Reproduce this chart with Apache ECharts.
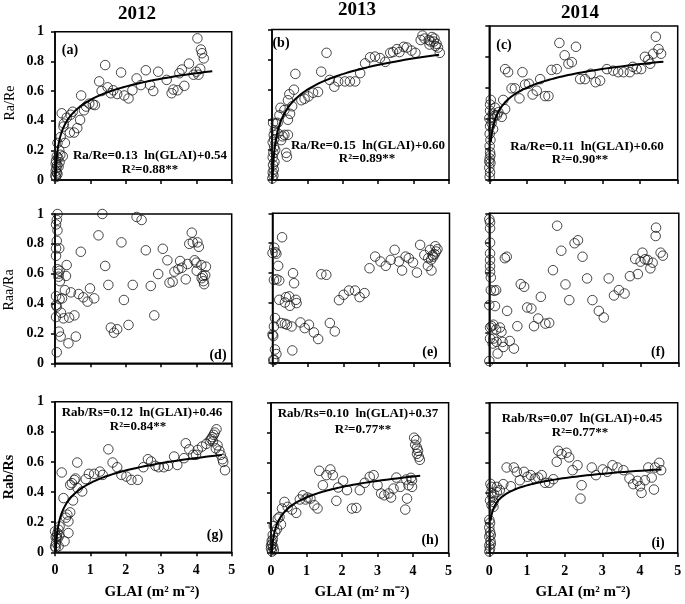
<!DOCTYPE html>
<html>
<head>
<meta charset="utf-8">
<script src="https://cdn.jsdelivr.net/npm/echarts@6/dist/echarts.min.js"></script>
<style>html,body{margin:0;padding:0;background:#fff}#c{width:685px;height:604px}</style>
</head>
<body>
<div id="c"></div>
<script>
// ---- Data ----
const years = ['2012', '2013', '2014'];
const rowNames = ['Ra/Re', 'Raa/Ra', 'Rab/Rs'];
const panelLabels = ['(a)', '(b)', '(c)', '(d)', '(e)', '(f)', '(g)', '(h)', '(i)'];
const xTicks = [0, 1, 2, 3, 4, 5];
const yTicks = [0, 0.2, 0.4, 0.6, 0.8, 1];

const ptsA = [[4.03,0.955],[4.13,0.88],[4.16,0.855],[4.21,0.82],[4.11,0.75],[4.06,0.71],[3.92,0.71],[4.0,0.73],[3.79,0.785],[3.59,0.745],[3.52,0.72],[3.66,0.635],[3.47,0.605],[3.35,0.61],[3.30,0.585],[3.16,0.675],[2.92,0.73],[2.78,0.60],[2.69,0.64],[2.57,0.74],[2.43,0.64],[2.31,0.685],[2.19,0.605],[2.08,0.55],[1.96,0.57],[1.87,0.725],[1.76,0.58],[1.65,0.605],[1.58,0.585],[1.49,0.625],[1.42,0.775],[1.32,0.60],[1.25,0.665],[1.13,0.505],[1.07,0.51],[0.97,0.515],[0.88,0.495],[0.82,0.47],[0.74,0.57],[0.71,0.405],[0.63,0.35],[0.54,0.32],[0.42,0.32],[0.50,0.46],[0.44,0.44],[0.33,0.42],[0.25,0.38],[0.19,0.45],[0.24,0.36],[0.28,0.25],[0.22,0.16],[0.16,0.29],[0.12,0.20],[0.07,0.25],[0.05,0.16],[0.03,0.13],[0.06,0.10],[0.04,0.08],[0.02,0.06],[0.07,0.04],[0.03,0.02],[0.10,0.09],[0.13,0.12],[0.15,0.17],[0.09,0.15],[0.02,0.11],[0.05,0.05],[0.01,0.03]];
const ptsB = [[4.2,0.93],[4.25,0.96],[4.31,0.94],[4.43,0.93],[4.48,0.92],[4.57,0.92],[4.65,0.905],[4.69,0.88],[4.74,0.845],[4.52,0.95],[4.59,0.94],[4.45,0.90],[4.62,0.89],[4.05,0.845],[3.94,0.86],[3.81,0.88],[3.72,0.885],[3.60,0.85],[3.53,0.87],[3.42,0.85],[3.34,0.845],[3.20,0.785],[3.05,0.81],[2.91,0.82],[2.77,0.815],[2.63,0.775],[2.49,0.71],[2.35,0.655],[2.20,0.655],[2.06,0.655],[1.87,0.655],[1.76,0.62],[1.63,0.665],[1.54,0.845],[1.39,0.72],[1.30,0.585],[1.16,0.58],[1.03,0.555],[0.92,0.54],[0.83,0.53],[0.66,0.705],[0.62,0.60],[0.49,0.57],[0.45,0.53],[0.57,0.49],[0.51,0.44],[0.45,0.40],[0.35,0.465],[0.24,0.48],[0.21,0.43],[0.16,0.38],[0.11,0.375],[0.35,0.30],[0.45,0.30],[0.30,0.29],[0.40,0.18],[0.42,0.155],[0.26,0.265],[0.16,0.31],[0.08,0.33],[0.03,0.38],[0.05,0.30],[0.02,0.25],[0.06,0.22],[0.04,0.18],[0.02,0.15],[0.07,0.12],[0.03,0.10],[0.05,0.07],[0.02,0.05],[0.04,0.03],[0.01,0.01],[0.06,0.27],[0.09,0.20]];
const ptsC = [[4.42,0.93],[4.49,0.85],[4.35,0.82],[4.56,0.82],[4.22,0.78],[4.13,0.80],[4.27,0.755],[4.03,0.72],[3.91,0.72],[3.81,0.735],[3.73,0.70],[3.56,0.70],[3.42,0.70],[3.29,0.71],[3.12,0.72],[2.94,0.645],[2.82,0.635],[2.69,0.69],[2.54,0.655],[2.41,0.655],[2.30,0.865],[2.19,0.765],[2.10,0.755],[2.00,0.81],[1.86,0.89],[1.79,0.72],[1.65,0.715],[1.57,0.545],[1.48,0.545],[1.35,0.655],[1.26,0.58],[1.15,0.555],[1.05,0.625],[0.95,0.62],[0.88,0.70],[0.80,0.53],[0.68,0.595],[0.59,0.595],[0.50,0.70],[0.42,0.72],[0.37,0.52],[0.42,0.46],[0.33,0.41],[0.24,0.44],[0.20,0.42],[0.15,0.42],[0.09,0.40],[0.06,0.37],[0.10,0.33],[0.04,0.52],[0.02,0.49],[0.15,0.47],[0.09,0.43],[0.02,0.45],[0.0,0.40],[0.02,0.35],[0.01,0.30],[0.03,0.26],[0.01,0.22],[0.02,0.18],[0.01,0.14],[0.03,0.11],[0.0,0.08],[0.02,0.05],[0.01,0.02],[0.03,0.16],[0.0,0.12]];
const ptsD = [[0.07,1.0],[0.05,0.96],[0.03,0.93],[0.07,0.89],[0.05,0.82],[0.03,0.77],[0.12,0.77],[0.03,0.72],[0.07,0.63],[0.10,0.60],[1.34,1.0],[2.31,0.98],[2.45,0.96],[1.23,0.857],[1.88,0.81],[3.87,0.875],[3.90,0.81],[3.80,0.80],[4.03,0.81],[4.07,0.78],[2.57,0.757],[3.05,0.767],[0.73,0.747],[3.18,0.69],[3.54,0.685],[3.95,0.69],[4.0,0.674],[4.14,0.658],[3.75,0.665],[3.59,0.64],[3.49,0.63],[3.38,0.614],[4.27,0.647],[4.01,0.62],[1.42,0.652],[0.33,0.658],[2.92,0.598],[3.24,0.54],[3.33,0.547],[3.70,0.5625],[4.15,0.57],[4.20,0.55],[4.22,0.53],[4.25,0.59],[4.18,0.585],[1.51,0.525],[2.20,0.525],[2.71,0.518],[0.10,0.58],[0.14,0.55],[0.13,0.62],[0.31,0.585],[0.28,0.49],[0.45,0.475],[0.20,0.435],[0.67,0.464],[0.80,0.442],[0.92,0.413],[0.99,0.502],[1.11,0.435],[1.95,0.424],[0.17,0.339],[0.24,0.301],[0.40,0.306],[0.55,0.321],[2.81,0.321],[1.58,0.239],[1.67,0.205],[1.76,0.228],[2.08,0.257],[0.11,0.212],[0.16,0.179],[0.38,0.134],[0.59,0.179],[0.05,0.074],[0.03,0.39],[0.03,0.31],[0.03,0.45],[0.05,0.38],[0.13,0.43]];
const ptsE = [[0.27,0.84],[0.05,0.77],[0.11,0.73],[0.08,0.74],[0.0,0.735],[0.16,0.649],[0.11,0.56],[0.19,0.551],[0.04,0.555],[0.58,0.60],[0.61,0.533],[0.38,0.44],[0.47,0.445],[0.19,0.422],[0.35,0.404],[0.49,0.382],[0.66,0.422],[0.68,0.40],[0.07,0.30],[0.04,0.244],[0.25,0.267],[0.35,0.262],[0.41,0.256],[0.54,0.244],[0.79,0.271],[0.91,0.233],[1.03,0.256],[1.17,0.204],[1.29,0.16],[1.38,0.593],[1.52,0.589],[1.62,0.267],[1.76,0.211],[1.88,0.42],[2.01,0.456],[2.16,0.484],[2.33,0.484],[2.46,0.44],[2.60,0.467],[2.74,0.633],[2.90,0.711],[3.05,0.678],[3.20,0.649],[3.34,0.689],[3.45,0.756],[3.57,0.678],[3.66,0.618],[3.76,0.711],[3.85,0.70],[3.97,0.671],[4.08,0.604],[4.17,0.789],[4.29,0.722],[4.39,0.649],[4.49,0.618],[4.40,0.70],[4.45,0.756],[4.48,0.69],[4.52,0.72],[4.58,0.727],[4.60,0.78],[4.66,0.76],[4.62,0.745],[4.54,0.71],[0.56,0.084],[0.02,0.18],[0.0,0.19],[0.07,0.09],[0.11,0.06],[0.05,0.02],[0.02,0.02]];
const ptsF = [[1.79,0.917],[4.40,0.904],[4.39,0.848],[2.25,0.80],[2.34,0.82],[1.90,0.75],[2.46,0.71],[0.41,0.70],[0.46,0.71],[4.04,0.737],[3.85,0.695],[3.99,0.677],[4.11,0.693],[4.18,0.688],[4.31,0.67],[4.25,0.632],[4.52,0.737],[4.58,0.717],[1.68,0.62],[2.58,0.565],[3.15,0.565],[3.71,0.58],[3.92,0.594],[0.83,0.527],[0.92,0.509],[2.01,0.525],[1.36,0.442],[2.11,0.42],[2.72,0.42],[3.29,0.451],[3.42,0.487],[3.57,0.464],[1.0,0.371],[1.11,0.364],[0.47,0.348],[2.89,0.348],[3.02,0.304],[1.29,0.297],[1.48,0.263],[1.58,0.268],[1.18,0.246],[0.74,0.246],[0.54,0.147],[0.65,0.096],[0.13,0.482],[0.18,0.487],[0.15,0.38],[0.11,0.256],[0.06,0.246],[0.18,0.224],[0.28,0.237],[0.32,0.208],[0.11,0.163],[0.19,0.141],[0.35,0.141],[0.37,0.107],[0.22,0.063],[0.09,0.13],[0.0,0.96],[0.02,0.94],[0.02,0.90],[0.02,0.804],[0.02,0.732],[0.02,0.688],[0.02,0.647],[0.02,0.609],[0.04,0.571],[0.04,0.487],[0.0,0.386],[0.02,0.237],[0.02,0.163],[0.0,0.013]];
const ptsG = [[4.57,0.817],[4.52,0.795],[4.49,0.78],[4.45,0.765],[4.42,0.752],[4.47,0.737],[4.38,0.742],[4.28,0.72],[4.16,0.702],[4.04,0.68],[3.91,0.647],[3.99,0.647],[3.70,0.724],[3.80,0.684],[4.60,0.71],[4.65,0.675],[4.69,0.647],[4.74,0.618],[4.76,0.60],[4.81,0.545],[4.55,0.69],[3.65,0.625],[3.46,0.58],[3.37,0.636],[3.20,0.574],[3.08,0.565],[2.93,0.565],[2.84,0.574],[2.72,0.603],[2.63,0.618],[2.50,0.565],[2.34,0.481],[2.16,0.481],[2.02,0.503],[1.88,0.514],[1.76,0.565],[1.63,0.596],[1.51,0.684],[1.35,0.514],[1.27,0.536],[1.11,0.521],[0.96,0.521],[0.87,0.486],[0.77,0.404],[0.63,0.596],[0.64,0.426],[0.55,0.48],[0.58,0.49],[0.48,0.459],[0.43,0.448],[0.51,0.344],[0.43,0.265],[0.38,0.205],[0.35,0.25],[0.31,0.23],[0.38,0.128],[0.24,0.36],[0.19,0.53],[0.27,0.073],[0.13,0.172],[0.10,0.15],[0.07,0.128],[0.05,0.106],[0.03,0.062],[0.10,0.04],[0.0,0.139],[0.02,0.10],[0.07,0.09],[0.0,0.04],[0.02,0.03],[0.12,0.11]];
const ptsH = [[4.03,0.767],[4.09,0.751],[4.06,0.72],[4.11,0.70],[4.14,0.68],[4.11,0.66],[4.16,0.64],[4.19,0.62],[3.94,0.50],[3.97,0.484],[3.97,0.44],[3.87,0.451],[3.81,0.489],[3.83,0.362],[3.78,0.289],[3.64,0.44],[3.53,0.502],[3.45,0.429],[3.38,0.369],[3.31,0.396],[3.19,0.384],[3.10,0.396],[3.0,0.451],[2.89,0.518],[2.78,0.507],[2.64,0.467],[2.50,0.418],[2.40,0.30],[2.28,0.296],[2.14,0.418],[2.03,0.48],[1.89,0.436],[1.84,0.347],[1.74,0.518],[1.67,0.556],[1.56,0.518],[1.46,0.451],[1.36,0.547],[1.31,0.296],[1.22,0.318],[1.11,0.362],[1.03,0.369],[0.97,0.356],[0.90,0.384],[0.81,0.356],[0.71,0.267],[0.59,0.289],[0.47,0.307],[0.38,0.34],[0.31,0.296],[0.24,0.24],[0.19,0.229],[0.08,0.18],[0.12,0.14],[0.17,0.16],[0.28,0.19],[0.05,0.12],[0.02,0.08],[0.03,0.06],[0.06,0.04],[0.0,0.03],[0.08,0.02],[0.03,0.01],[0.0,0.05],[0.05,0.09]];
const ptsI = [[1.83,0.68],[1.92,0.658],[2.05,0.667],[2.12,0.636],[1.79,0.607],[2.21,0.551],[2.34,0.584],[2.45,0.451],[2.42,0.362],[2.72,0.569],[2.83,0.518],[3.01,0.556],[3.13,0.54],[3.27,0.584],[3.40,0.569],[3.56,0.551],[3.72,0.496],[3.82,0.458],[3.93,0.48],[4.0,0.444],[4.04,0.40],[4.13,0.484],[4.22,0.569],[4.31,0.502],[4.37,0.422],[4.40,0.569],[4.51,0.60],[4.56,0.551],[0.46,0.569],[0.65,0.569],[0.73,0.54],[0.81,0.484],[0.92,0.54],[1.01,0.507],[1.10,0.518],[1.21,0.496],[1.30,0.502],[1.39,0.518],[1.48,0.467],[1.59,0.467],[1.70,0.491],[0.57,0.444],[0.37,0.458],[0.28,0.418],[0.20,0.405],[0.13,0.39],[0.09,0.373],[0.11,0.34],[0.06,0.318],[0.11,0.307],[0.06,0.44],[0.20,0.44],[0.03,0.46],[0.05,0.40],[0.02,0.35],[0.0,0.22],[0.02,0.20],[0.0,0.17],[0.02,0.14],[0.0,0.11],[0.03,0.08],[0.0,0.05],[0.02,0.03],[0.0,0.01],[0.04,0.12],[0.04,0.06]];
const panelPoints = [ptsA, ptsB, ptsC, ptsD, ptsE, ptsF, ptsG, ptsH, ptsI];

// fitted log curves: y = a ln(x) + b (panels a,b,c,g,h,i)
const fitPanels = [0, 1, 2, 6, 7, 8];
const fitA = [0.13, 0.15, 0.11, 0.12, 0.10, 0.07];
const fitB = [0.54, 0.60, 0.60, 0.46, 0.37, 0.45];
const fitXStart = [0.017, 0.019, 0.04, 0.022, 0.025, 0.035];
const fitXEnd = [4.45, 4.72, 4.62, 4.72, 4.2, 4.57];
const fitEq = ['Ra/Re=0.13  ln(GLAI)+0.54', 'Ra/Re=0.15  ln(GLAI)+0.60', 'Ra/Re=0.11  ln(GLAI)+0.60',
               'Rab/Rs=0.12  ln(GLAI)+0.46', 'Rab/Rs=0.10  ln(GLAI)+0.37', 'Rab/Rs=0.07  ln(GLAI)+0.45'];
const fitR2 = ['R²=0.88**', 'R²=0.89**', 'R²=0.90**', 'R²=0.84**', 'R²=0.77**', 'R²=0.77**'];

// ---- Layout ----
const gridBoxes = [
  [55, 31.7, 176.7, 148.3], [272, 29.5, 177, 150.5], [489.3, 26, 188.4, 154],
  [55, 214, 176.7, 149.3], [272.5, 213.3, 177, 149.7], [489.3, 213.3, 189.5, 149.7],
  [55, 401.7, 176.7, 150.6], [271, 402.7, 177.6, 150.3], [489.3, 402.7, 188.4, 150.3]
];
const eqPos = [[150,156,150,170],[368,146,367,159],[587,147,580,160],[142,413,138,427],[358,414,363,430],[582,419,580,433]];
const labelPos = [[70,50],[281,43],[504,45],[218,355],[430,352],[658,352],[215,535],[430,540],[658,543]];
const yearPos = [[137,14],[357,10],[580,13]];
const rowNamePos = [[10,103],[9,290],[9,477]];

const FONT = '"Liberation Serif", "Times New Roman", serif';
const grids = [], xAxes = [], yAxes = [], series = [];
for (let i = 0; i < 9; i++) {
  const b = gridBoxes[i];
  const col = i % 3, row = Math.floor(i / 3);
  grids.push({left: b[0], top: b[1], width: b[2], height: b[3], show: true, borderColor: '#000', borderWidth: 1.5, backgroundColor: 'transparent'});
  xAxes.push({gridIndex: i, type: 'value', min: xTicks[0], max: xTicks[xTicks.length-1], interval: 1,
    axisLine: {show: true, onZero: false, lineStyle: {color: '#000', width: 1.5}},
    axisTick: {show: true, inside: false, length: 4, lineStyle: {color: '#000', width: 1.5}},
    splitLine: {show: false},
    axisLabel: {show: row === 2, margin: 11, color: '#000', fontFamily: FONT, fontWeight: 'bold', fontSize: 14}});
  yAxes.push({gridIndex: i, type: 'value', min: yTicks[0], max: yTicks[yTicks.length-1], interval: 0.2,
    axisLine: {show: true, onZero: false, lineStyle: {color: '#000', width: 1.5}},
    axisTick: {show: true, inside: false, length: 4, lineStyle: {color: '#000', width: 1.5}},
    splitLine: {show: false},
    axisLabel: {show: col === 0, margin: 11, color: '#000', fontFamily: FONT, fontWeight: 'bold', fontSize: 14,
      formatter: v => String(Math.round(v*10)/10)}});
  series.push({type: 'scatter', xAxisIndex: i, yAxisIndex: i, data: panelPoints[i], symbol: 'circle', symbolSize: 9.5,
    itemStyle: {color: 'rgba(0,0,0,0)', borderColor: '#1a1a1a', borderWidth: 1}, silent: true, z: 2});
}
fitPanels.forEach((p, k) => {
  const pts = [];
  const n = 120;
  const l0 = Math.log(fitXStart[k]), l1 = Math.log(fitXEnd[k]);
  for (let j = 0; j <= n; j++) {
    const x = Math.exp(l0 + (l1 - l0) * j / n);
    pts.push([x, fitA[k] * Math.log(x) + fitB[k]]);
  }
  series.push({type: 'line', xAxisIndex: p, yAxisIndex: p, data: pts, showSymbol: false, symbol: 'none',
    lineStyle: {color: '#000', width: 2}, silent: true, z: 3, clip: true});
});

const graphics = [];
const txt = (x, y, s, size, weight, extra) => Object.assign({type: 'text', x: x, y: y, z: 10,
  style: {text: s, fill: '#000', font: (weight || 'normal') + ' ' + size + 'px ' + FONT, textAlign: 'center', textVerticalAlign: 'middle'}}, extra || {});
years.forEach((y, i) => graphics.push(txt(yearPos[i][0], yearPos[i][1], y, 19, 'bold')));
panelLabels.forEach((s, i) => graphics.push(txt(labelPos[i][0], labelPos[i][1], s, 14, 'bold')));
fitPanels.forEach((p, k) => {
  graphics.push(txt(eqPos[k][0], eqPos[k][1], fitEq[k], 13, 'bold'));
  graphics.push(txt(eqPos[k][2], eqPos[k][3], fitR2[k], 13, 'bold'));
});
rowNames.forEach((s, i) => graphics.push(txt(rowNamePos[i][0], rowNamePos[i][1], s, 14, i === 2 ? 'bold' : 'normal', {rotation: Math.PI / 2})));
[[152, 592], [362, 592], [583, 592]].forEach(p => graphics.push(txt(p[0], p[1], 'GLAI (m² m⁻²)', 15, 'bold')));

const chart = echarts.init(document.getElementById('c'), null, {renderer: 'canvas'});
chart.setOption({animation: false, backgroundColor: '#fff', grid: grids, xAxis: xAxes, yAxis: yAxes, series: series, graphic: graphics});
</script>
</body>
</html>
